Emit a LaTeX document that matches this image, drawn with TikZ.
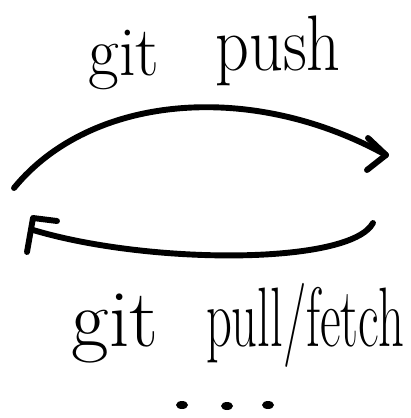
\documentclass[tikz,border=0pt]{standalone}
\usepackage{tikz}
\usetikzlibrary{positioning, calc}

\tikzset{
  ink/.style={line width=4.2pt, line cap=round, line join=round},
  hand/.style={font=\fontsize{#1}{#1}\selectfont, inner sep=0pt, anchor=base},
  hand/.default=44,
}

\begin{document}
\begin{tikzpicture}[x=0.025cm, y=-0.025cm]
  \useasboundingbox (0,0) rectangle (410,418);

  % labels
  \node[hand=50, xscale=0.95] (gitA) at (124,76) {git};
  \node[hand=56, xscale=0.84] (push) at (278,71) {push};
  \node[hand=58] (gitB) at (115,346) {git};
  \node[hand=60, xscale=0.6] (pull) at (305,346) {pull/fetch};

  % push arrow
  \coordinate (pushS) at (14,188);
  \coordinate (pushT) at (386,155);
  \draw[ink] (pushS) .. controls (90,95) and (250,80) .. (pushT);
  \draw[ink] ($(pushT)+(-18,-17)$) -- (pushT) -- ($(pushT)+(-19,15)$);

  % pull/fetch arrow
  \coordinate (pullS) at (373,223);
  \coordinate (pullT) at (33,218);
  \draw[ink] (pullS) .. controls (350,265) and (150,265) .. ($(pullT)+(0,12)$);
  \draw[ink] ($(pullT)+(24,3)$) -- (pullT) -- ($(pullT)+(-6,34)$);

  % dots
  \foreach \x/\y in {182/405, 227/406, 268/405}
    \fill (\x,\y) ellipse [x radius=6, y radius=4];
\end{tikzpicture}
\end{document}
